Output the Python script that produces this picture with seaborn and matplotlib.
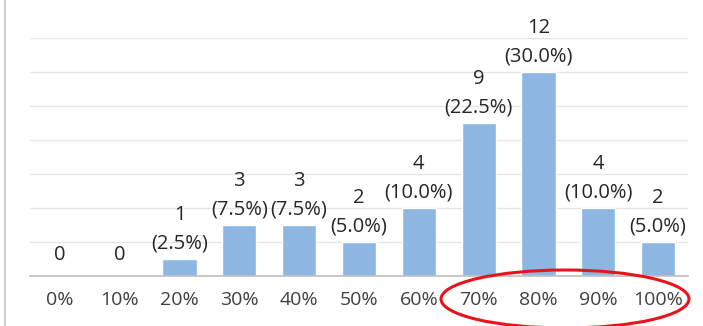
import matplotlib
matplotlib.use("Agg")
import matplotlib.pyplot as plt
import seaborn as sns
import pandas as pd
from matplotlib.patches import Ellipse
from matplotlib.lines import Line2D

categories = ["0%", "10%", "20%", "30%", "40%", "50%", "60%", "70%", "80%", "90%", "100%"]
counts = [0, 0, 1, 3, 3, 2, 4, 9, 12, 4, 2]
percents = ["", "", "(2.5%)", "(7.5%)", "(7.5%)", "(5.0%)", "(10.0%)", "(22.5%)", "(30.0%)", "(10.0%)", "(5.0%)"]

df = pd.DataFrame({"cat": categories, "n": counts})

sns.set_theme(style="white")
plt.rcParams["font.family"] = ["Open Sans", "DejaVu Sans"]

W, H = 703, 326
fig = plt.figure(figsize=(W / 100, H / 100), dpi=100)
ax = fig.add_axes([30 / W, (H - 276) / H, (688 - 30) / W, (276 - 38) / H])

sns.barplot(data=df, x="cat", y="n", color="#8DB7E2", saturation=1, width=0.57, ax=ax)

ax.set_ylim(0, 14)
ax.set_xlim(-0.5, len(categories) - 0.5)
ax.set_yticks(range(0, 15, 2))
ax.set_yticklabels([])
ax.tick_params(axis="y", length=0)
ax.yaxis.grid(True, color="#E6E6E6", lw=1)
ax.set_axisbelow(True)
for s in ["top", "right", "left"]:
    ax.spines[s].set_visible(False)
ax.spines["bottom"].set_color("#BFBFBF")
ax.spines["bottom"].set_linewidth(1.2)
ax.set_xlabel("")
ax.set_ylabel("")

# category separator ticks
ax.set_xticks([i - 0.5 for i in range(len(categories) + 1)], minor=True)
ax.tick_params(axis="x", which="minor", length=5, color="#BFBFBF", width=1.2, direction="out")
ax.tick_params(axis="x", which="major", length=0, pad=11, labelsize=14, labelcolor="#404040")

for i, (c, p) in enumerate(zip(counts, percents)):
    if c == 0:
        ax.annotate(str(c), (i, c), xytext=(0, 15), textcoords="offset points",
                    ha="center", va="center", fontsize=14.5, color="#262626")
    else:
        ax.annotate(p, (i, c), xytext=(0, 11), textcoords="offset points",
                    ha="center", va="center", fontsize=14.5, color="#262626", annotation_clip=False)
        ax.annotate(str(c), (i, c), xytext=(0, 32), textcoords="offset points",
                    ha="center", va="center", fontsize=14.5, color="#262626", annotation_clip=False)

# left border of the chart area
fig.add_artist(Line2D([5 / W, 5 / W], [0, 1], transform=fig.transFigure, color="#CFCFCF", lw=1.5))

# red ellipse around 70%-100%
ell = Ellipse((565 / W, (H - 299) / H), 248 / W, 58 / H, transform=fig.transFigure,
              fill=False, edgecolor="#E8141B", lw=2.2)
fig.add_artist(ell)

fig.savefig("out.png", dpi=100)
